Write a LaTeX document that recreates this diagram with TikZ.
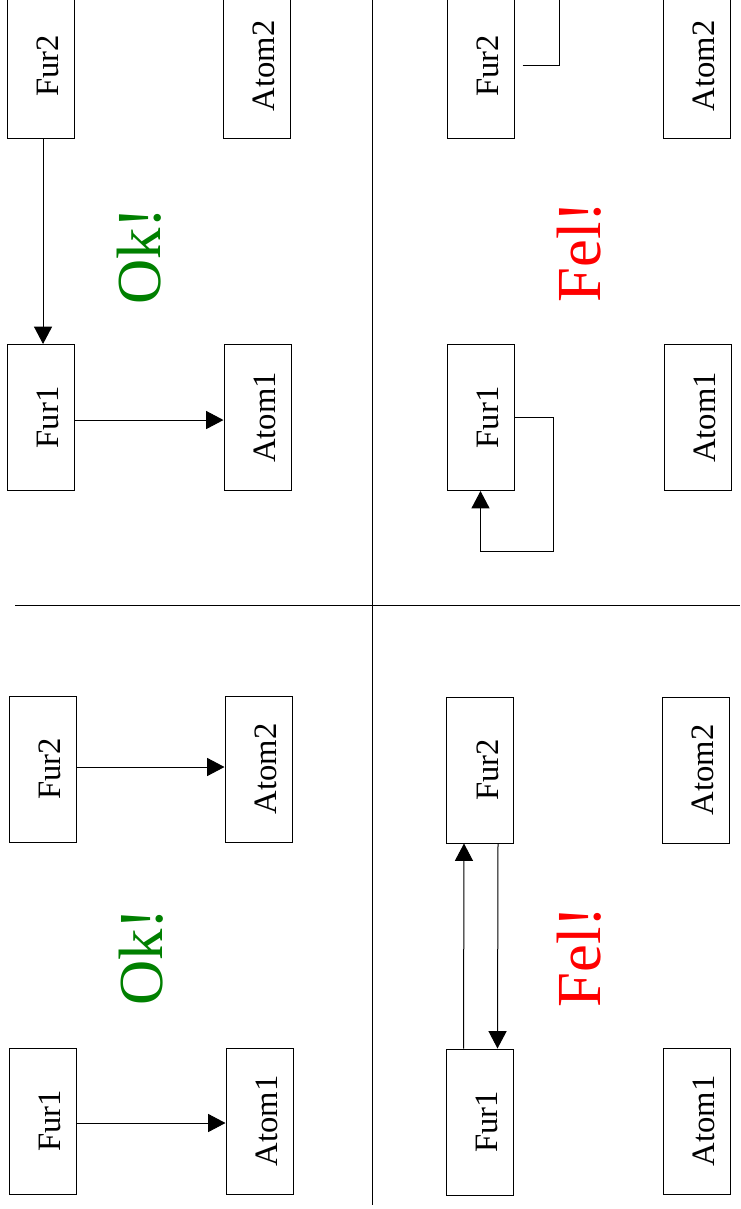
\documentclass[tikz,border=0pt]{standalone}
\usepackage{fontspec}
\setmainfont{Liberation Serif}
\usetikzlibrary{arrows.meta}
\definecolor{okgreen}{RGB}{0,128,0}
\definecolor{felred}{RGB}{255,0,0}
\newcommand{\boxlbl}[1]{\rotatebox{90}{\raisebox{0pt}[27pt][0pt]{#1}}}
\tikzset{
  blk/.style={draw, line width=0.75pt, minimum width=50.25pt, minimum height=109.5pt,
    inner sep=0pt, font=\fontsize{24.5}{29}\selectfont},
  arr/.style={line width=0.75pt, -{Triangle[length=13pt,width=13.5pt]}},
  ln/.style={line width=0.75pt},
  big/.style={rotate=90, inner sep=0pt, font=\fontsize{47}{54}\selectfont},
}
\begin{document}
\begin{tikzpicture}[x=0.75pt,y=-0.75pt]
\useasboundingbox (0,0) rectangle (740,1209);
% dividers
\coordinate (vtop) at (372,0);
\coordinate (vbot) at (372,1205);
\coordinate (hl) at (15,605);
\coordinate (hr) at (740,605);
\draw[ln] (vtop) -- (vbot);
\draw[ln] (hl) -- (hr);
% top-left
\node[blk] (tlfur2) at (40.5,66) {\boxlbl{Fur2}};
\node[blk] (tlatom2) at (256.5,66) {\boxlbl{Atom2}};
\node[blk] (tlfur1) at (40.5,417.5) {\boxlbl{Fur1}};
\node[blk] (tlatom1) at (257.5,417.5) {\boxlbl{Atom1}};
\node[big, text=okgreen] (tlok) at (139,256) {Ok!};
\draw[arr] ([xshift=1.9pt]tlfur2.south) -- ([xshift=1.9pt]tlfur1.north);
\draw[arr] ([yshift=-1.9pt]tlfur1.east) -- ([yshift=-1.9pt]tlatom1.west);
% top-right
\node[blk] (trfur2) at (480.5,66) {\boxlbl{Fur2}};
\node[blk] (tratom2) at (696.5,66) {\boxlbl{Atom2}};
\node[blk] (trfur1) at (480.5,417.5) {\boxlbl{Fur1}};
\node[blk] (tratom1) at (697.5,417.5) {\boxlbl{Atom1}};
\node[big, text=felred] (trfel) at (579,252) {Fel!};
\coordinate (trtop) at (559,-2);
\draw[ln] ([xshift=6pt]trfur2.east) -| (trtop);
\draw[arr] (trfur1.east) -- ++(39,0) -- ++(0,133.5) -| (trfur1.south);
% bottom-left
\node[blk] (blfur2) at (42.5,769) {\boxlbl{Fur2}};
\node[blk] (blatom2) at (258.5,769) {\boxlbl{Atom2}};
\node[blk] (blfur1) at (42.5,1121) {\boxlbl{Fur1}};
\node[blk] (blatom1) at (259.5,1121) {\boxlbl{Atom1}};
\node[big, text=okgreen] (blok) at (141,957) {Ok!};
\draw[arr] ([yshift=1.5pt]blfur2.east) -- ([yshift=1.5pt]blatom2.west);
\draw[arr] ([yshift=-1.5pt]blfur1.east) -- ([yshift=-1.5pt]blatom1.west);
% bottom-right
\node[blk] (brfur2) at (480,770) {\boxlbl{Fur2}};
\node[blk] (bratom2) at (695.5,770) {\boxlbl{Atom2}};
\node[blk] (brfur1) at (479.5,1122) {\boxlbl{Fur1}};
\node[blk] (bratom1) at (696.5,1121) {\boxlbl{Atom1}};
\node[big, text=felred] (brfel) at (579,957) {Fel!};
\draw[arr] ([xshift=-12pt]brfur1.north) -- ([xshift=-12pt]brfur2.south);
\draw[arr] ([xshift=13.5pt]brfur2.south) -- ([xshift=13.5pt]brfur1.north);
\end{tikzpicture}
\end{document}
